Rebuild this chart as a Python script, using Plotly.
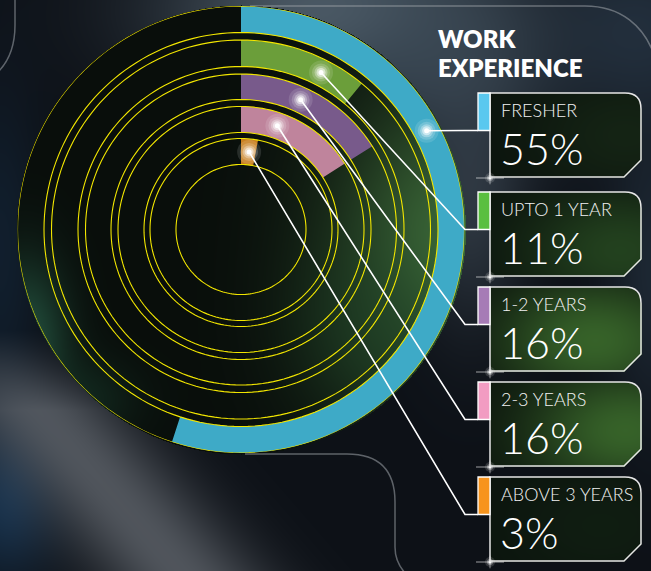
import base64
import struct
import zlib

import numpy as np
import plotly.graph_objects as go

# ---- data -------------------------------------------------------------
categories = ["FRESHER", "UPTO 1 YEAR", "1-2 YEARS", "2-3 YEARS", "ABOVE 3 YEARS"]
shares = [55, 11, 16, 16, 3]          # percent of respondents
title_lines = ["WORK", "EXPERIENCE"]

# ---- styling ----------------------------------------------------------
W, H = 651, 571
CX, CY, R = 241.0, 229.5, 223.5       # dial centre / outer radius (px)
ring_inner = [197, 163, 130, 97, 65]
ring_outer = [223.5, 189.5, 155.5, 123, 91]
ring_colors = ["#3eaac7", "#6b9e3a", "#785a8b", "#bf849c", "#c98020"]
chip_colors = ["#5ac8ef", "#5abf40", "#a67bb6", "#f29cc2", "#f7941d"]
guide_radii = [223.5, 197, 189.5, 163, 155.5, 130, 123, 97, 91, 65]
dot_angles = [62, 27, 24.7, 19.3, 6]  # where each leader starts (deg, clockwise from top)
box_tops = [93, 192, 287, 382, 477]
BOX_H, CHIP_H = 84, 37.5
BOX_X0, BOX_X1, CHIP_X0 = 490, 641, 478
ELBOW_X = 465
box_glows = [((625, 135), (30, 52, 28), 0.5),
             ((620, 250), (45, 85, 38), 0.7),
             ((595, 340), (62, 112, 46), 0.85),
             ((625, 430), (62, 112, 46), 0.85),
             ((600, 525), (22, 42, 24), 0.45)]


# ---- soft background raster -------------------------------------------
yy, xx = np.mgrid[0:H, 0:W].astype(float)
img = np.zeros((H, W, 3))
img[:] = (13, 17, 23)


def blob(cx, cy, sx, sy, color, w, mask=None):
    global img
    g = w * np.exp(-0.5 * (((xx - cx) / sx) ** 2 + ((yy - cy) / sy) ** 2))
    if mask is not None:
        g = g * mask
    img += g[..., None] * (np.array(color, float) - img)


blob(330, 10, 120, 60, (85, 100, 112), 0.9)
blob(440, 60, 90, 70, (60, 75, 88), 0.7)
blob(645, 30, 70, 70, (45, 62, 80), 0.6)
blob(470, 200, 40, 90, (66, 78, 90), 0.6)
blob(655, 270, 35, 110, (40, 55, 70), 0.6)
blob(0, 250, 30, 120, (20, 40, 60), 0.6)
blob(5, 500, 35, 55, (25, 60, 95), 0.7)

# diagonal grey haze in the lower-left corner
d = np.abs((xx - 100) * 0.756 - (yy - 480) * 0.655)
wgt = 0.85 * np.exp(-0.5 * (d / 45) ** 2) * np.clip((yy - 330) / 80, 0, 1)
img += wgt[..., None] * (np.array((92, 97, 104), float) - img)

# dial interior
inside = (np.hypot(xx - CX, yy - CY) <= R + 1).astype(float)
img = img * (1 - inside[..., None]) + inside[..., None] * np.array((9, 14, 11), float)
blob(455, 250, 85, 120, (62, 108, 58), 0.95, inside)
blob(380, 330, 60, 60, (30, 65, 40), 0.5, inside)
blob(25, 345, 30, 60, (38, 88, 68), 0.85, inside)
blob(80, 400, 40, 30, (25, 60, 45), 0.5, inside)

# legend card fills
for top, (gc, gcol, gw) in zip(box_tops, box_glows):
    bot = top + BOX_H
    m = (xx >= BOX_X0) & (xx <= BOX_X1) & (yy >= top) & (yy <= bot)
    m &= ~((xx > BOX_X1 - 16) & (yy < top + 16) & (np.hypot(xx - (BOX_X1 - 16), yy - (top + 16)) > 16))
    m &= ~(xx + yy > (BOX_X1 - 17) + bot)
    mf = m.astype(float)
    img = img * (1 - mf[..., None]) + mf[..., None] * np.array((11, 19, 13), float)
    blob(gc[0], gc[1], 70, 45, gcol, gw, mf)


def png_uri(arr):
    a = np.clip(arr, 0, 255).astype(np.uint8)
    f = a.astype(np.int16)
    f[:, 1:, :] = (a[:, 1:, :].astype(np.int16) - a[:, :-1, :].astype(np.int16)) % 256
    f = f.astype(np.uint8)
    raw = b"".join(b"\x01" + row.tobytes() for row in f)

    def chunk(t, data):
        return struct.pack(">I", len(data)) + t + data + struct.pack(">I", zlib.crc32(t + data) & 0xFFFFFFFF)

    png = (b"\x89PNG\r\n\x1a\n"
           + chunk(b"IHDR", struct.pack(">IIBBBBB", a.shape[1], a.shape[0], 8, 2, 0, 0, 0))
           + chunk(b"IDAT", zlib.compress(raw, 9))
           + chunk(b"IEND", b""))
    return "data:image/png;base64," + base64.b64encode(png).decode()


# ---- figure -----------------------------------------------------------
fig = go.Figure()

# arcs: one ring per category, sweeping clockwise from 12 o'clock
fig.add_trace(go.Barpolar(
    r=[o - i for i, o in zip(ring_inner, ring_outer)],
    base=ring_inner,
    theta=[v * 3.6 / 2 for v in shares],
    width=[v * 3.6 for v in shares],
    marker=dict(color=ring_colors, line=dict(width=0)),
    hoverinfo="skip", showlegend=False,
))

# thin yellow guide circles
gr, gt = [], []
for rad in guide_radii:
    gr += [rad] * 181 + [None]
    gt += list(np.linspace(0, 360, 181)) + [None]
fig.add_trace(go.Scatterpolar(r=gr, theta=gt, mode="lines",
                              line=dict(color="#f2e600", width=1.1),
                              hoverinfo="skip", showlegend=False))

# glowing leader anchors (stacked translucent discs)
rm = [(i + o) / 2 for i, o in zip(ring_inner, ring_outer)]
for size, op in [(24, 0.12), (18, 0.18), (13, 0.3), (9, 0.5), (5, 1.0)]:
    fig.add_trace(go.Scatterpolar(
        r=rm, theta=dot_angles, mode="markers",
        marker=dict(size=size, color="white", opacity=op, line=dict(width=0)),
        hoverinfo="skip", showlegend=False))

dot_xy = [(CX + r * np.sin(np.radians(a)), CY - r * np.cos(np.radians(a)))
          for r, a in zip(rm, dot_angles)]

shapes = []
# faint frame outlines in the backdrop
deco = dict(type="path", xref="x", yref="y", layer="below",
            line=dict(color="rgba(160,165,172,0.55)", width=1.5))
shapes.append(dict(deco, path="M 250 6 L 585 6 C 620 6 645 25 656 60"))
shapes.append(dict(deco, path="M 15 -2 L 15 25 Q 15 55 -2 72"))
shapes.append(dict(deco, path="M 245 454 L 347 454 Q 395 454 395 502 L 395 547 Q 395 563 407 575"))

annotations = []
for k, (cat, val, top) in enumerate(zip(categories, shares, box_tops)):
    bot = top + BOX_H
    cb = top + CHIP_H
    # card outline
    shapes.append(dict(
        type="path", xref="x", yref="y", layer="above",
        path=(f"M {BOX_X0} {top} L {BOX_X1 - 16} {top} Q {BOX_X1} {top} {BOX_X1} {top + 16} "
              f"L {BOX_X1} {bot - 17} L {BOX_X1 - 17} {bot} L {BOX_X0} {bot} Z"),
        line=dict(color="#e6e6e6", width=1.5), fillcolor="rgba(0,0,0,0)"))
    # colour chip
    shapes.append(dict(type="rect", xref="x", yref="y", layer="above",
                       x0=CHIP_X0, x1=BOX_X0, y0=top, y1=cb,
                       fillcolor=chip_colors[k], line=dict(color="white", width=1.3)))
    # leader line
    dx, dy = dot_xy[k]
    shapes.append(dict(type="path", xref="x", yref="y", layer="above",
                       path=f"M {dx:.1f} {dy:.1f} L {ELBOW_X} {cb} L {CHIP_X0} {cb}",
                       line=dict(color="white", width=1.6)))
    annotations.append(dict(x=499, y=top + 17, xref="x", yref="y", text=cat,
                            xanchor="left", yanchor="middle", showarrow=False,
                            font=dict(family="Lato", size=18, color="#f2f2f2", weight=300)))
    annotations.append(dict(x=498, y=top + 55, xref="x", yref="y", text=f"{val}%",
                            xanchor="left", yanchor="middle", showarrow=False,
                            font=dict(family="Lato", size=43, color="white", weight=300)))

for line, yc in zip(title_lines, [38.5, 67.5]):
    annotations.append(dict(x=436, y=yc, xref="x", yref="y", text=line,
                            xanchor="left", yanchor="middle", showarrow=False,
                            font=dict(family="Lato", size=24, color="white", weight=800)))

# small flares at the card corners
flare_x = [BOX_X0] * 5
flare_y = [t + BOX_H + 1 for t in box_tops]
for size, op in [(10, 0.15), (6, 0.35), (3, 0.9)]:
    fig.add_trace(go.Scatter(
        x=flare_x, y=flare_y, mode="markers",
        marker=dict(size=size, color="white", opacity=op, line=dict(width=0)),
        hoverinfo="skip", showlegend=False))
fig.add_trace(go.Scatter(
    x=flare_x, y=flare_y, mode="markers",
    marker=dict(size=20, symbol="line-ew", opacity=0.6, line=dict(color="white", width=1)),
    hoverinfo="skip", showlegend=False))
fig.add_trace(go.Scatter(
    x=flare_x, y=flare_y, mode="markers",
    marker=dict(size=9, symbol="line-ns", opacity=0.5, line=dict(color="white", width=1)),
    hoverinfo="skip", showlegend=False))

fig.update_layout(
    width=W, height=H, margin=dict(l=0, r=0, t=0, b=0),
    paper_bgcolor="#0d1117", plot_bgcolor="rgba(0,0,0,0)",
    xaxis=dict(range=[0, W], visible=False, fixedrange=True, domain=[0, 1]),
    yaxis=dict(range=[H, 0], visible=False, fixedrange=True, domain=[0, 1]),
    polar=dict(
        domain=dict(x=[(CX - R) / W, (CX + R) / W], y=[1 - (CY + R) / H, 1 - (CY - R) / H]),
        bgcolor="rgba(0,0,0,0)", hole=0,
        radialaxis=dict(range=[0, R], visible=False),
        angularaxis=dict(visible=False, rotation=90, direction="clockwise"),
    ),
    images=[dict(source=png_uri(img), xref="paper", yref="paper", x=0, y=1,
                 sizex=1, sizey=1, sizing="stretch", layer="below",
                 xanchor="left", yanchor="top")],
    shapes=shapes, annotations=annotations, showlegend=False,
)

fig.write_html("out.html")
